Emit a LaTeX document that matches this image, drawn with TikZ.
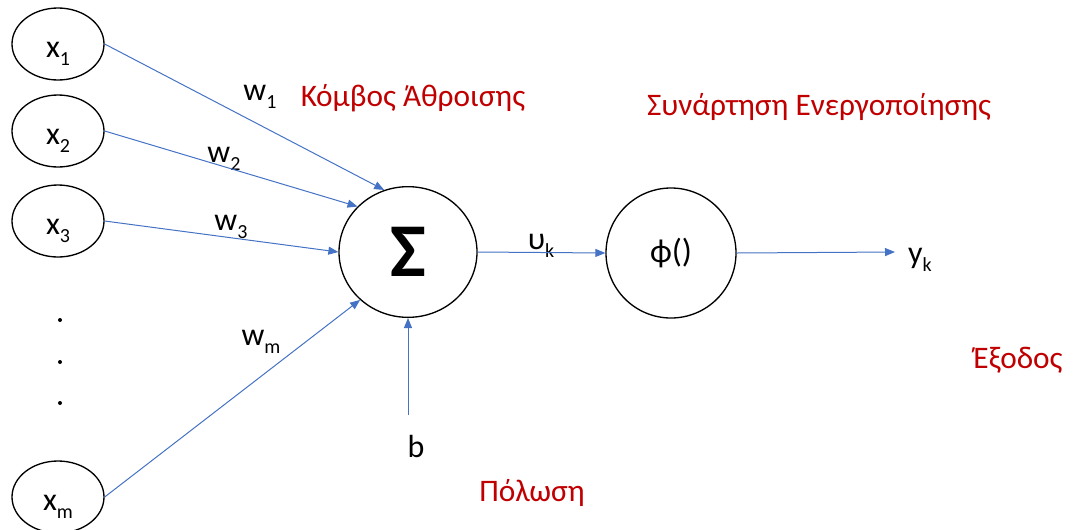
\documentclass[tikz,border=0pt]{standalone}
\usepackage{fontspec}
\setmainfont{Carlito}
\usetikzlibrary{arrows.meta, positioning, shapes.geometric}
\definecolor{linkblue}{RGB}{68,114,196}
\definecolor{notered}{RGB}{192,0,0}
\newcommand{\lowidx}[1]{\raisebox{-6pt}[0pt][0pt]{\fontsize{15}{15}\selectfont #1}}
\newcommand{\inputname}[1]{\raisebox{-4.5pt}[\height][\depth]{x\lowidx{#1}}}

\begin{document}
\begin{tikzpicture}[
  x=0.75pt, y=-0.75pt,
  inputnode/.style={
    ellipse, draw=black, line width=1pt,
    minimum width=69pt, minimum height=54pt,
    inner sep=0pt, font=\fontsize{24}{28}\selectfont
  },
  sumnode/.style={
    ellipse, draw=black, line width=1pt,
    minimum width=103.5pt, minimum height=98pt, inner sep=0pt
  },
  actnode/.style={
    circle, draw=black, line width=1pt,
    minimum size=97.5pt, inner sep=0pt,
    font=\fontsize{25}{28}\selectfont
  },
  weight/.style={inner sep=0pt, font=\fontsize{24}{28}\selectfont},
  notelabel/.style={inner sep=0pt, text=notered, font=\fontsize{23.5}{28}\selectfont},
  arrow/.style={-{Triangle[length=7.5pt, width=6pt]}, line width=0.75pt, draw=linkblue}
]
\useasboundingbox (0,0) rectangle (1073,529);

% inputs
\node[inputnode] (x1) at (58,44) {\inputname{1}};
\node[inputnode] (x2) at (58,131) {\inputname{2}};
\node[inputnode] (x3) at (58,221) {\inputname{3}};
\node[inputnode] (xm) at (58,497) {\inputname{m}};
\foreach \ypos in {320,362,403}
  \fill (60,\ypos) circle (1.5pt);

% summing and activation
\node[sumnode] (sum) at (408,252) {\fontsize{57}{57}\selectfont\bfseries Σ};
\node[actnode] (phi) at (671,253) {ϕ()};
\coordinate (bias) at (408,415);
\coordinate (out) at (895,252);

% labels
\node[weight] (w1) at (260,93) {w\lowidx{1}};
\node[weight] (w2) at (224,155) {w\lowidx{2}};
\node[weight] (w3) at (231,223) {w\lowidx{3}};
\node[weight] (wm) at (261,338) {w\lowidx{m}};
\node[weight] (uk) at (541,242) {υ\lowidx{k}};
\node[weight] (yk) at (920,258) {y\lowidx{k}};
\node[weight] (b) at (416,446) {b};
\node[notelabel] (sumnote) at (413,98) {Κόμβος Άθροισης};
\node[notelabel] (actnote) at (819,107) {Συνάρτηση Ενεργοποίησης};
\node[notelabel] (outnote) at (1018,360) {Έξοδος};
\node[notelabel] (biasnote) at (532,493) {Πόλωση};

% connectors
\draw[arrow] (x1.east) -- (sum.111);
\draw[arrow] (x2.east) -- (sum.138);
\draw[arrow] (x3.east) -- (sum.west);
\draw[arrow] (xm.east) -- (sum.225);
\draw[arrow] (bias) -- (sum.south);
\draw[arrow] (sum.east) -- (phi.west);
\draw[arrow] (phi.east) -- (out);

\end{tikzpicture}
\end{document}
